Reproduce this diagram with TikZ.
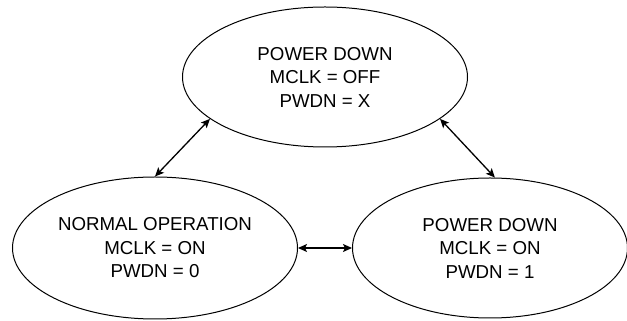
\documentclass[tikz,border=0pt]{standalone}
\usepackage{fontspec}
\setmainfont{Liberation Sans}
\usetikzlibrary{shapes.geometric,arrows.meta}

\begin{document}
\begin{tikzpicture}[x=1pt, y=1pt,
  state/.style={draw, ellipse, line width=1pt, inner sep=0pt, align=center,
    font=\fontsize{18.7}{23.5}\selectfont},
  link/.style={{Stealth[length=9pt,width=8pt,inset=2pt]}-{Stealth[length=9pt,width=8pt,inset=2pt]}, line width=1.3pt}]
\useasboundingbox (0,0) rectangle (627,321);
\node[state, minimum width=285, minimum height=140] (off) at (325,244) {POWER DOWN\\MCLK = OFF\\PWDN = X};
\node[state, minimum width=285, minimum height=142] (normal) at (155,73) {NORMAL OPERATION\\MCLK = ON\\PWDN = 0};
\node[state, minimum width=275, minimum height=140] (pdown) at (490,73) {POWER DOWN\\MCLK = ON\\PWDN = 1};
\draw[link] (off.200) -- (normal.90);
\draw[link] (off.340) -- (pdown.86);
\draw[link] (normal.east) -- (pdown.west);
\end{tikzpicture}
\end{document}
